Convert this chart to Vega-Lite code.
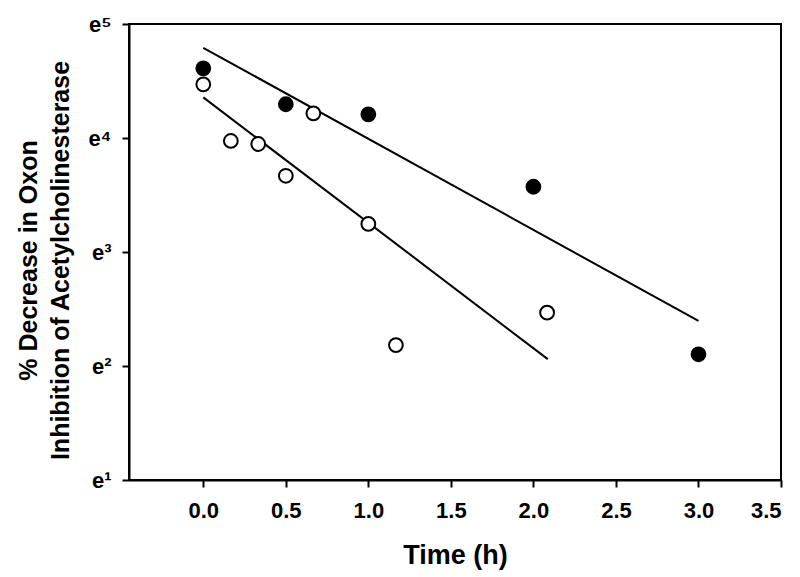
{
  "$schema": "https://vega.github.io/schema/vega-lite/v6.json",
  "width": 652,
  "height": 456,
  "autosize": {"type": "none"},
  "padding": {"left": 129, "top": 24, "right": 19, "bottom": 97},
  "background": "white",
  "config": {
    "view": {"stroke": "black", "strokeWidth": 2},
    "font": "Liberation Sans",
    "axis": {
      "grid": false,
      "domainColor": "black",
      "domainWidth": 2,
      "tickColor": "black",
      "tickWidth": 2,
      "tickSize": 7,
      "labelColor": "black",
      "titleColor": "black",
      "titleFontWeight": "bold",
      "labelFontWeight": "bold",
      "labelFont": "Liberation Sans",
      "titleFont": "Liberation Sans"
    }
  },
  "datasets": {
    "points": [
      {"series": "filled", "time": 0.0, "value": 100.6},
      {"series": "filled", "time": 0.5, "value": 73.4},
      {"series": "filled", "time": 1.0, "value": 67.2},
      {"series": "filled", "time": 2.0, "value": 35.6},
      {"series": "filled", "time": 3.0, "value": 8.19},
      {"series": "open", "time": 0.0, "value": 87.4},
      {"series": "open", "time": 0.167, "value": 53.2},
      {"series": "open", "time": 0.333, "value": 51.8},
      {"series": "open", "time": 0.5, "value": 39.2},
      {"series": "open", "time": 0.667, "value": 67.8},
      {"series": "open", "time": 1.0, "value": 25.7},
      {"series": "open", "time": 1.167, "value": 8.88},
      {"series": "open", "time": 2.083, "value": 11.8}
    ],
    "fits": [
      {"series": "filled", "time": 0.0, "value": 120.5},
      {"series": "filled", "time": 3.0, "value": 10.97},
      {"series": "open", "time": 0.0, "value": 78.0},
      {"series": "open", "time": 2.087, "value": 7.85}
    ]
  },
  "layer": [
    {
      "data": {"name": "fits"},
      "mark": {"type": "line", "color": "black", "strokeWidth": 2},
      "encoding": {
        "x": {
          "field": "time",
          "type": "quantitative",
          "scale": {"domain": [-0.45, 3.5], "nice": false, "zero": false},
          "axis": {
            "values": [0, 0.5, 1, 1.5, 2, 2.5, 3, 3.5],
            "format": ".1f",
            "title": "Time (h)",
            "labelFontSize": 22,
            "labelPadding": 13,
            "titleFontSize": 27,
            "titleY": 75,
            "titleBaseline": "middle"
          }
        },
        "y": {
          "field": "value",
          "type": "quantitative",
          "scale": {"type": "log", "base": 2.718281828459045, "domain": [2.718281828459045, 148.4131591025766], "nice": false},
          "axis": {
            "values": [2.718281828459045, 7.38905609893065, 20.085536923187668, 54.598150033144236, 148.4131591025766],
            "labelExpr": "'e' + ['¹','²','³','⁴','⁵'][round(log(datum.value)) - 1]",
            "labelFontSize": 22,
            "labelPadding": 11,
            "labelBaseline": "middle",
            "title": ["% Decrease in Oxon", "Inhibition of Acetylcholinesterase"],
            "titleFontSize": 25,
            "titleX": -101,
            "titleY": 236,
            "titleAngle": -90,
            "titleAlign": "center",
            "titleBaseline": "middle",
            "titleLineHeight": 32
          }
        },
        "detail": {"field": "series"}
      }
    },
    {
      "data": {"name": "points"},
      "mark": {"type": "point", "shape": "circle", "size": 190, "strokeWidth": 2, "stroke": "black", "opacity": 1},
      "encoding": {
        "x": {"field": "time", "type": "quantitative"},
        "y": {"field": "value", "type": "quantitative"},
        "fill": {
          "field": "series",
          "type": "nominal",
          "scale": {"domain": ["filled", "open"], "range": ["black", "white"]},
          "legend": null
        }
      }
    }
  ]
}
